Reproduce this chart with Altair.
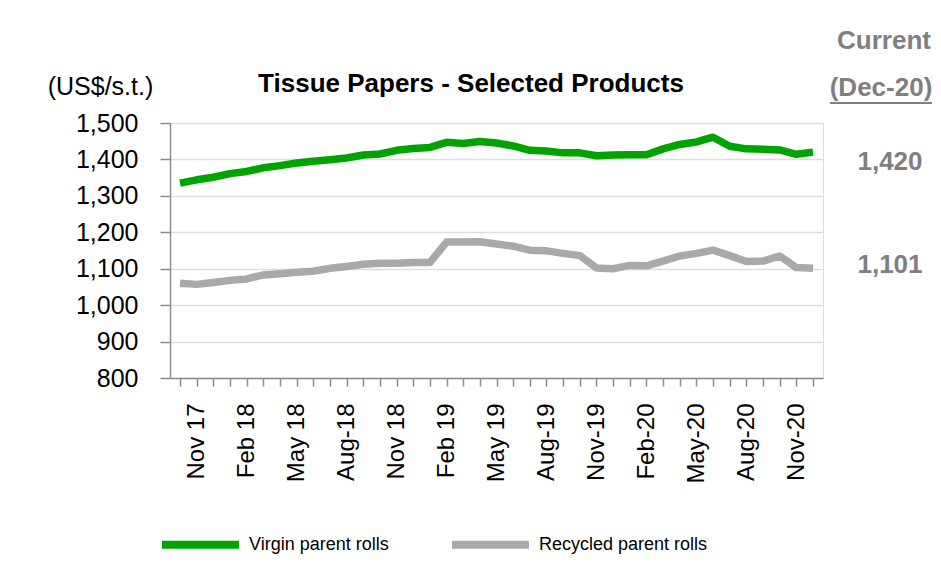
import altair as alt
import pandas as pd

# ---------------- data ----------------
months = ["Oct 17", "Nov 17", "Dec 17", "Jan 18", "Feb 18", "Mar 18", "Apr 18", "May 18",
          "Jun 18", "Jul 18", "Aug-18", "Sep-18", "Oct-18", "Nov 18", "Dec-18", "Jan-19",
          "Feb 19", "Mar-19", "Apr-19", "May 19", "Jun-19", "Jul-19", "Aug-19", "Sep-19",
          "Oct-19", "Nov-19", "Dec-19", "Jan-20", "Feb-20", "Mar-20", "Apr-20", "May-20",
          "Jun-20", "Jul-20", "Aug-20", "Sep-20", "Oct-20", "Nov-20", "Dec-20"]
shown_labels = ["Nov 17", "Feb 18", "May 18", "Aug-18", "Nov 18", "Feb 19", "May 19",
                "Aug-19", "Nov-19", "Feb-20", "May-20", "Aug-20", "Nov-20"]
virgin = [1335, 1344, 1351, 1361, 1367, 1377, 1383, 1390, 1395, 1399, 1404, 1412, 1415,
          1425, 1430, 1433, 1447, 1444, 1449, 1445, 1437, 1425, 1423, 1418, 1418, 1410,
          1412, 1413, 1413, 1429, 1441, 1448, 1461, 1436, 1429, 1428, 1426, 1414, 1420]
recycled = [1060, 1057, 1062, 1068, 1072, 1083, 1086, 1090, 1093, 1101, 1106, 1112, 1115,
            1115, 1117, 1117, 1173, 1173, 1174, 1168, 1162, 1151, 1149, 1142, 1136, 1102,
            1100, 1109, 1108, 1121, 1135, 1142, 1151, 1136, 1120, 1121, 1135, 1103, 1101]
series_names = ["Virgin parent rolls", "Recycled parent rolls"]
series_colors = ["#00A300", "#A9A9A9"]
y_ticks = [800, 900, 1000, 1100, 1200, 1300, 1400, 1500]

title_text = "Tissue Papers - Selected Products"
unit_text = "(US$/s.t.)"
current_head = "Current"
current_date = "(Dec-20)"

FONT = "Liberation Sans"
GREY_TXT = "#7F7F7F"
AXIS_GREY = "#8C8C8C"

df = pd.DataFrame({
    "month": months * 2,
    "series": [series_names[0]] * len(months) + [series_names[1]] * len(months),
    "value": virgin + recycled,
})

label_list = "[" + ",".join("'" + s + "'" for s in shown_labels) + "]"

x_enc = alt.X(
    "month:O", sort=months,
    scale=alt.Scale(type="point", padding=0.6),
    axis=alt.Axis(
        title=None, labelAngle=270,
        labelExpr=f"indexof({label_list}, datum.value) >= 0 ? datum.value : ''",
        labelFont=FONT, labelFontSize=24, labelColor="black", labelPadding=17,
        labelOverlap=False, tickSize=8, tickColor=AXIS_GREY, tickWidth=1.5,
        domainColor=AXIS_GREY, domainWidth=1.5, grid=False,
    ),
)
y_enc = alt.Y(
    "value:Q",
    scale=alt.Scale(domain=[800, 1500], nice=False, zero=False),
    axis=alt.Axis(
        values=y_ticks, format=",d",
        title=unit_text, titleAngle=0, titleX=-70, titleY=-29, titleAlign="center",
        titleBaseline="alphabetic", titleFont=FONT, titleFontSize=25,
        titleFontWeight="normal", titleColor="black",
        labelFont=FONT, labelFontSize=25, labelColor="black", labelPadding=22,
        tickSize=10, tickColor=AXIS_GREY, tickWidth=1.5,
        domainColor=AXIS_GREY, domainWidth=1.5,
        grid=True, gridColor="#DEDEDE", gridWidth=1.5,
    ),
)
color_enc = alt.Color(
    "series:N",
    scale=alt.Scale(domain=series_names, range=series_colors),
    legend=alt.Legend(
        title=None, orient="none", legendX=-12, legendY=379, direction="horizontal",
        symbolType="stroke", symbolSize=5929, symbolStrokeWidth=8,
        labelFont=FONT, labelFontSize=18, labelColor="black", labelOffset=6,
        labelLimit=400, columnPadding=47, padding=0,
    ),
)

lines = alt.Chart(df).mark_line(strokeWidth=7.5, strokeJoin="round").encode(
    x=x_enc, y=y_enc, color=color_enc
)


def label(text, x, y, size, bold=True, color="black"):
    return alt.Chart(pd.DataFrame({"t": [text]})).mark_text(
        font=FONT, fontSize=size, fontWeight="bold" if bold else "normal",
        color=color, align="center", baseline="alphabetic",
    ).encode(text="t:N", x=alt.value(x), y=alt.value(y))


title_layer = label(title_text, 301, -31, 26)
cur_head = label(current_head, 714, -74, 26, color=GREY_TXT)
cur_date = label(current_date, 711, -27, 26, color=GREY_TXT)
underline = alt.Chart(pd.DataFrame({"t": [0]})).mark_rule(
    color=GREY_TXT, strokeWidth=2
).encode(x=alt.value(660), x2=alt.value(762), y=alt.value(-20))
last_virgin = label(f"{virgin[-1]:,}", 720, 47, 26, color=GREY_TXT)
last_recycled = label(f"{recycled[-1]:,}", 720, 150, 26, color=GREY_TXT)

chart = alt.layer(
    lines, title_layer, cur_head, cur_date, underline, last_virgin, last_recycled
).properties(
    width=653, height=255,
    autosize=alt.AutoSizeParams(type="none"),
    padding={"left": 162, "top": 115, "right": 110, "bottom": 176},
).configure_view(stroke=None).configure(background="white")

chart.save("out.html", embed_options={"renderer": "svg", "actions": False})
